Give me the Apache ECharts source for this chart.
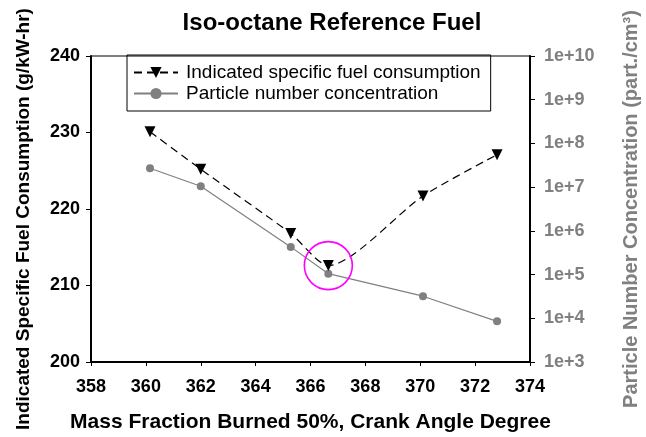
<!DOCTYPE html>
<html><head><meta charset="utf-8">
<script src="https://cdn.jsdelivr.net/npm/echarts@6/dist/echarts.min.js"></script>
<style>html,body{margin:0;padding:0;background:#fff}#c{width:646px;height:437px}</style>
</head><body><div id="c"></div>
<script>
const mfb50 = [360.15, 362.0, 365.28, 366.65, 370.1, 372.8];
const isfc = [230.1, 225.2, 216.8, 212.6, 221.7, 227.1];
const pnMfb50 = [360.15, 362.0, 365.28, 366.65, 370.1, 372.8];
const pn = [2.7e7, 1.05e7, 4.3e5, 1.05e5, 3.2e4, 8.5e3];
const xTicks = [358, 374, 2];
const leftTicks = [200, 240, 10];
const rightTicks = [1e3, 1e10];

const F = '"Liberation Sans", Arial, sans-serif';
const chart = echarts.init(document.getElementById('c'), null, {renderer: 'canvas'});
chart.setOption({
  animation: false,
  backgroundColor: '#fff',
  title: {text: 'Iso-octane Reference Fuel', left: 327, textAlign: 'center', top: 6,
    textStyle: {fontFamily: F, fontSize: 24, fontWeight: 'bold', color: '#000'}},
  grid: {left: 91, right: 116, top: 56, bottom: 75, show: true, borderColor: '#000', borderWidth: 1,
    containLabel: false, outerBoundsMode: 'none'},
  legend: {
    left: 127, top: 55, orient: 'vertical', borderColor: '#000', borderWidth: 1,
    padding: [8, 10, 8, 6], itemGap: 2, itemWidth: 44, itemHeight: 14,
    textStyle: {fontFamily: F, fontSize: 19, color: '#000', padding: [0, 0, 0, 3]},
    data: ['Indicated specific fuel consumption', 'Particle number concentration']
  },
  xAxis: {
    type: 'value', min: xTicks[0], max: xTicks[1], interval: xTicks[2],
    name: 'Mass Fraction Burned 50%, Crank Angle Degree', nameLocation: 'middle', nameGap: 50,
    nameTextStyle: {fontFamily: F, fontSize: 21, fontWeight: 'bold', color: '#000'},
    axisLine: {show: true, lineStyle: {color: '#000', width: 2}},
    axisTick: {show: true, inside: false, length: 4, lineStyle: {color: '#000'}},
    axisLabel: {fontFamily: F, fontSize: 18, fontWeight: 'bold', color: '#000', margin: 16},
    splitLine: {show: false}
  },
  yAxis: [{
    type: 'value', min: leftTicks[0], max: leftTicks[1], interval: leftTicks[2], position: 'left',
    name: 'Indicated Specific Fuel Consumption (g/kW-hr)', nameLocation: 'middle', nameGap: 58,
    nameTextStyle: {fontFamily: F, fontSize: 19, fontWeight: 'bold', color: '#000', padding: [0, 20, 0, 0]},
    axisLine: {show: true, lineStyle: {color: '#000', width: 2}},
    axisTick: {show: true, length: 5, lineStyle: {color: '#000'}},
    axisLabel: {fontFamily: F, fontSize: 18, fontWeight: 'bold', color: '#000', margin: 11},
    splitLine: {show: false}
  }, {
    type: 'log', logBase: 10, min: rightTicks[0], max: rightTicks[1], position: 'right',
    name: 'Particle Number Concentration (part./cm³)', nameLocation: 'middle', nameGap: 91,
    nameRotate: 90,
    nameTextStyle: {fontFamily: F, fontSize: 20, fontWeight: 'bold', color: '#808080'},
    axisLine: {show: true, lineStyle: {color: '#000', width: 2}},
    axisTick: {show: true, length: 5, lineStyle: {color: '#000'}},
    axisLabel: {fontFamily: F, fontSize: 18, fontWeight: 'bold', color: '#808080', margin: 14,
      formatter: v => '1e+' + Math.round(Math.log10(v))},
    splitLine: {show: false}, minorTick: {show: false}
  }],
  series: [{
    name: 'Indicated specific fuel consumption', type: 'line', yAxisIndex: 0,
    data: mfb50.map((x, i) => [x, isfc[i]]),
    smooth: 0.25,
    symbol: 'triangle', symbolRotate: 180, symbolSize: 11,
    itemStyle: {color: '#000'},
    lineStyle: {color: '#000', width: 1.2, type: [8, 5]},
    markPoint: {
      symbol: 'circle', symbolSize: 48, silent: true,
      itemStyle: {color: 'rgba(0,0,0,0)', borderColor: '#ff00ff', borderWidth: 1.6},
      label: {show: false},
      data: [{type: 'min'}]
    },
    z: 3
  }, {
    name: 'Particle number concentration', type: 'line', yAxisIndex: 1,
    data: pnMfb50.map((x, i) => [x, pn[i]]),
    symbol: 'circle', symbolSize: 8,
    itemStyle: {color: '#808080'},
    lineStyle: {color: '#808080', width: 1.2},
    z: 2
  }]
});
</script></body></html>
